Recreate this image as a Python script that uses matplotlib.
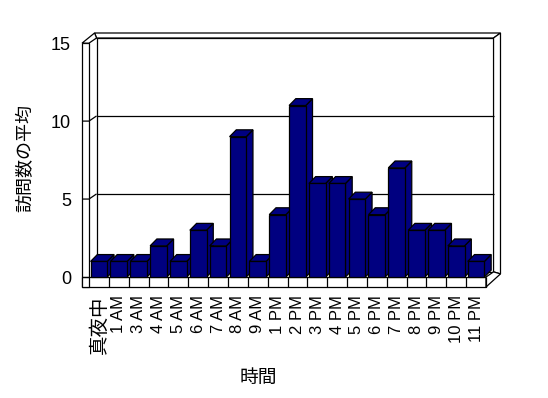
import matplotlib.pyplot as plt
from matplotlib.patches import Polygon, Rectangle

hours = ["真夜中", "1 AM", "3 AM", "4 AM", "5 AM", "6 AM", "7 AM", "8 AM", "9 AM",
         "1 PM", "2 PM", "3 PM", "4 PM", "5 PM", "6 PM", "7 PM", "8 PM", "9 PM",
         "10 PM", "11 PM"]
visits = [1, 1, 1, 2, 1, 3, 2, 9, 1, 4, 11, 6, 6, 5, 4, 7, 3, 3, 2, 1]
yticks = [0, 5, 10, 15]

LATIN = ["Liberation Sans", "Noto Sans CJK JP"]
CJK = ["Noto Sans CJK JP", "DejaVu Sans"]
NAVY = "#000080"
LW = 0.9

n = len(hours)
ymax = 15
# depth of the wall / bars, in data units
DX, DY = 0.38, 0.33
BDX, BDY = 0.34, 0.44
TX, TY = 0.35, 0.32        # wall thickness (x side, top)
FLOOR = 0.64               # floor slab thickness
W = 0.42                   # half bar width

fig = plt.figure(figsize=(5.48, 3.98), dpi=100)
ax = fig.add_axes([89 / 548, 111 / 398, 397 / 548, 254 / 398])
ax.set_xlim(-0.5, n - 0.5)
ax.set_ylim(-FLOOR, ymax + DY + TY)
for s in ax.spines.values():
    s.set_visible(False)
ax.patch.set_alpha(0)

x0, x1 = -0.5, n - 0.5


def poly(pts, fc="white", z=1):
    ax.add_patch(Polygon(pts, closed=True, facecolor=fc, edgecolor="black",
                         linewidth=LW, zorder=z, clip_on=False, joinstyle="miter"))


def line(xs, ys, z=2):
    ax.plot(xs, ys, color="black", linewidth=LW, zorder=z, clip_on=False,
            solid_capstyle="butt")


# back wall
poly([(x0 + DX, DY), (x1 + DX, DY), (x1 + DX, ymax + DY), (x0 + DX, ymax + DY)])
# top strip of the back wall
poly([(x0 + DX, ymax + DY), (x1 + DX, ymax + DY), (x1 + DX + TX, ymax + DY + TY),
      (x0 + DX - 0.1, ymax + DY + TY)])
# right strip of the back wall
poly([(x1 + DX, DY), (x1 + DX + TX, DY - 0.13), (x1 + DX + TX, ymax + DY + TY),
      (x1 + DX, ymax + DY)])
# left wall: front face and top
poly([(x0 - TX, -FLOOR), (x0, -FLOOR), (x0, ymax), (x0 - TX, ymax)])
poly([(x0 - TX, ymax), (x0, ymax), (x0 + DX, ymax + DY), (x0 + DX - 0.1, ymax + DY + TY)])
# floor: front face and right side
poly([(x0 - TX, -FLOOR), (x1, -FLOOR), (x1, 0), (x0 - TX, 0)])
poly([(x1, -FLOOR), (x1 + DX + TX, DY - 0.13), (x1 + DX, DY), (x1, 0)])

# gridlines on back wall and left wall
for v in yticks[1:-1]:
    line([x0 + DX, x1 + DX], [v + DY, v + DY])
    line([x0 - TX, x0, x0 + DX], [v, v, v + DY])
line([x0 - TX, x0], [0, 0])

# category dividers on the floor front
for k in range(n + 1):
    line([x0 + k, x0 + k], [-FLOOR, 0], z=3)

# 3D bars, left to right so the later front faces cover earlier sides
for i, v in enumerate(visits):
    z = 10 + i
    poly([(i + W, 0), (i + W + BDX, BDY), (i + W + BDX, v + BDY), (i + W, v)], NAVY, z)
    poly([(i - W, v), (i + W, v), (i + W + BDX, v + BDY), (i - W + BDX, v + BDY)], NAVY, z)
    ax.add_patch(Rectangle((i - W, 0), 2 * W, v, facecolor=NAVY, edgecolor="black",
                           linewidth=LW, zorder=z, clip_on=False))

ax.set_yticks(yticks)
ax.set_yticklabels([str(t) for t in yticks], family=LATIN, fontsize=13)
ax.set_xticks(range(n))
ax.set_xticklabels(hours, rotation=90, family=LATIN, fontsize=12, va="top")
ax.get_xticklabels()[0].set_family(CJK)
ax.get_xticklabels()[0].set_fontsize(14)
ax.tick_params(axis="y", length=0, pad=13)
ax.tick_params(axis="x", length=0, pad=6)

fig.text(25 / 548, 1 - 158 / 398, "訪問数の平均", rotation=90, ha="center", va="center",
         family=CJK, fontsize=13)
fig.text(258 / 548, 1 - 377 / 398, "時間", ha="center", va="center",
         family=CJK, fontsize=13.5)

fig.savefig("out.png", dpi=100)
